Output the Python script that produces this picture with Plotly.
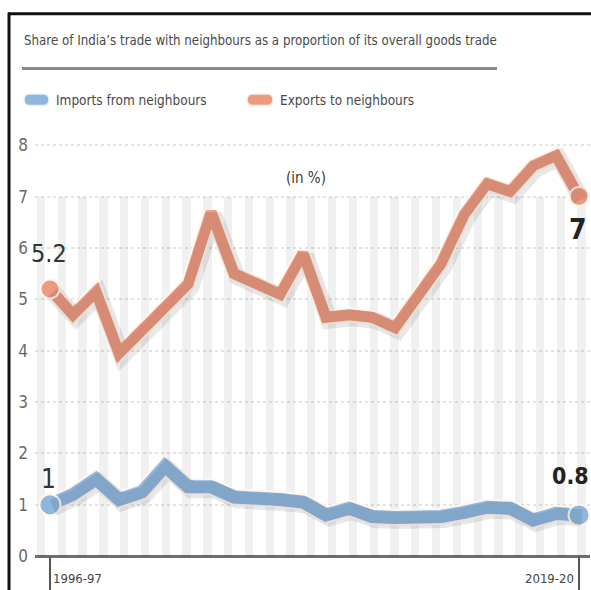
import plotly.graph_objects as go

years = ["1996-97", "1997-98", "1998-99", "1999-00", "2000-01", "2001-02", "2002-03",
         "2003-04", "2004-05", "2005-06", "2006-07", "2007-08", "2008-09", "2009-10",
         "2010-11", "2011-12", "2012-13", "2013-14", "2014-15", "2015-16", "2016-17",
         "2017-18", "2018-19", "2019-20"]
exports = [5.2, 4.7, 5.15, 3.95, 4.4, 4.85, 5.3, 6.7, 5.5, 5.3, 5.1, 5.9, 4.65, 4.7,
           4.65, 4.45, 5.1, 5.7, 6.65, 7.25, 7.1, 7.6, 7.8, 7.0]
imports = [1.0, 1.2, 1.5, 1.1, 1.25, 1.75, 1.35, 1.35, 1.15, 1.15, 1.1, 1.05, 0.8, 0.93,
           0.77, 0.75, 0.75, 0.77, 0.85, 0.95, 0.93, 0.7, 0.83, 0.8]
y_ticks = [0, 1, 2, 3, 4, 5, 6, 7, 8]
title_text = "Share of India\u2019s trade with neighbours as a proportion of its overall goods trade"
legend_names = ["Imports from neighbours", "Exports to neighbours"]

W, H = 591, 590
L, R, T, B = 35, 1, 134.5, 34
PW, PH = W - L - R, H - T - B

def px(x):
    return (x - L) / PW

def py(y):
    return (H - B - y) / PH

def pill(x0, x1, y0, y1):
    r = (y1 - y0) / 2
    ym = (y0 + y1) / 2
    return (f"M {px(x0 + r)} {py(y0)} L {px(x1 - r)} {py(y0)} "
            f"Q {px(x1)} {py(y0)} {px(x1)} {py(ym)} Q {px(x1)} {py(y1)} {px(x1 - r)} {py(y1)} "
            f"L {px(x0 + r)} {py(y1)} Q {px(x0)} {py(y1)} {px(x0)} {py(ym)} "
            f"Q {px(x0)} {py(y0)} {px(x0 + r)} {py(y0)} Z")

FONT = "Liberation Sans Narrow, DejaVu Sans Condensed, Arial Narrow, sans-serif"
ORANGE = "#EC9A80"
BLUE = "#8FB6DE"

xs = list(range(len(years)))
n = len(years)

fig = go.Figure()

# background stripes (decorative)
stripe_x = [-0.39 + 0.904 * k for k in range(27)]
fig.add_trace(go.Bar(x=stripe_x, y=[7] * len(stripe_x), width=0.36,
                     marker=dict(color="rgba(0,0,0,0.06)", line=dict(width=0)),
                     hoverinfo="skip", showlegend=False))

# shadows (offset axes)
for vals in (exports, imports):
    fig.add_trace(go.Scatter(x=xs, y=vals, mode="lines", xaxis="x2", yaxis="y2",
                             line=dict(color="rgba(0,0,0,0.09)", width=17),
                             hoverinfo="skip", showlegend=False))

for vals, col, w in ((exports, ORANGE, 11), (imports, BLUE, 13)):
    fig.add_trace(go.Scatter(x=xs, y=vals, mode="lines",
                             line=dict(color="#FFF6EE", width=w + 4),
                             hoverinfo="skip", showlegend=False))
    fig.add_trace(go.Scatter(x=xs, y=vals, mode="lines",
                             line=dict(color=col, width=w),
                             hoverinfo="skip", showlegend=False))
    fig.add_trace(go.Scatter(x=[xs[0], xs[-1]], y=[vals[0], vals[-1]], mode="markers",
                             marker=dict(color=col, size=w + 8, symbol="circle",
                                         line=dict(color="#FFF6EE", width=2)),
                             hoverinfo="skip", showlegend=False))

xr = [(L - 50) / 23, (W - R - 50) / 23]
yr = [0, 8.2]
dx = 3 / 23
dy = 3 / 51.4

fig.update_layout(
    width=W, height=H,
    margin=dict(l=L, r=R, t=T, b=B),
    paper_bgcolor="white", plot_bgcolor="white",
    barmode="overlay", bargap=0,
    xaxis=dict(range=xr, showgrid=False, zeroline=False, showticklabels=False,
               tickvals=[0, n - 1], ticks="outside", ticklen=34, tickwidth=1.5,
               tickcolor="#555", showline=False, fixedrange=True),
    yaxis=dict(range=yr, tickvals=y_ticks, showgrid=True, gridcolor="#E4E4E4",
               griddash="dot", gridwidth=1.5, zeroline=True, zerolinecolor="#6E6E6E",
               zerolinewidth=2.5, tickfont=dict(family=FONT, size=17, color="#6A6A6A"),
               ticks="", ticklabelstandoff=6, fixedrange=True),
    xaxis2=dict(range=[xr[0] - dx, xr[1] - dx], overlaying="x", visible=False),
    yaxis2=dict(range=[yr[0] + dy, yr[1] + dy], overlaying="y", visible=False),
    font=dict(family=FONT),
)

shapes = [
    dict(type="line", xref="paper", yref="paper", x0=px(9), x1=px(9), y0=py(12), y1=py(590),
         line=dict(color="#111", width=3)),
    dict(type="line", xref="paper", yref="paper", x0=px(8), x1=px(591), y0=py(13), y1=py(13),
         line=dict(color="#111", width=3)),
    dict(type="line", xref="paper", yref="paper", x0=px(22), x1=px(497), y0=py(68), y1=py(68),
         line=dict(color="#8A8A8A", width=3)),
    dict(type="path", xref="paper", yref="paper", path=pill(24, 49, 93.5, 105),
         fillcolor=BLUE, line=dict(color="#E8F0F8", width=1.5)),
    dict(type="path", xref="paper", yref="paper", path=pill(247, 273, 93.5, 105),
         fillcolor=ORANGE, line=dict(color="#FBEDE4", width=1.5)),
]
fig.update_layout(shapes=shapes)

ann = [
    dict(text=title_text, x=px(22), y=py(40), xanchor="left", yanchor="middle",
         font=dict(size=13.2, color="#4A4A4A")),
    dict(text=legend_names[0], x=px(54), y=py(99), xanchor="left", yanchor="middle",
         font=dict(size=13.5, color="#4A4A4A")),
    dict(text=legend_names[1], x=px(278), y=py(99), xanchor="left", yanchor="middle",
         font=dict(size=13.5, color="#4A4A4A")),
    dict(text="(in %)", x=px(306), y=py(178), xanchor="center", yanchor="middle",
         font=dict(size=15, color="#3A3A3A")),
    dict(text=years[0], x=px(51), y=py(579), xanchor="left", yanchor="middle",
         font=dict(size=13, color="#444")),
    dict(text=years[-1], x=px(576), y=py(579), xanchor="right", yanchor="middle",
         font=dict(size=13, color="#444")),
    dict(text=f"{exports[0]:g}", x=px(49), y=py(253), xanchor="center", yanchor="middle",
         font=dict(size=25, color="#333")),
    dict(text=f"{imports[0]:g}", x=px(48), y=py(479), xanchor="center", yanchor="middle",
         font=dict(size=26, color="#333")),
    dict(text=f"<b>{exports[-1]:g}</b>", x=px(578), y=py(229), xanchor="center", yanchor="middle",
         font=dict(size=28, color="#222")),
    dict(text=f"<b>{imports[-1]:g}</b>", x=px(591), y=py(476), xanchor="right", yanchor="middle",
         font=dict(size=23, color="#222")),
]
for a in ann:
    a.update(xref="paper", yref="paper", showarrow=False)
fig.update_layout(annotations=ann)

fig.write_html("out.html")
